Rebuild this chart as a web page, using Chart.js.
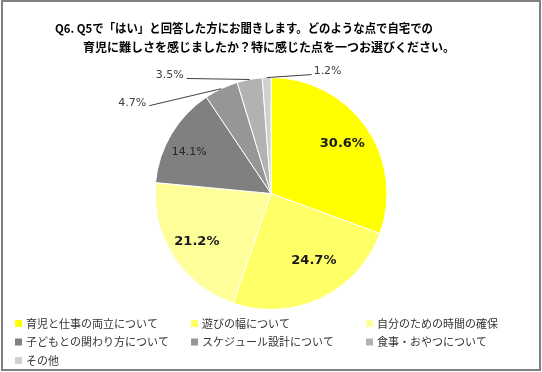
<!DOCTYPE html>
<html>
<head>
<meta charset="utf-8">
<script src="https://cdn.jsdelivr.net/npm/chart.js@4/dist/chart.umd.min.js"></script>
<style>
  html, body { margin: 0; padding: 0; background: #fff; }
  #wrap { width: 542px; height: 372px; }
</style>
</head>
<body>
<div id="wrap"><canvas id="myChart" width="542" height="372"></canvas></div>
<script>
// data
const titleLines = [
  "Q6. Q5で「はい」と回答した方にお聞きします。どのような点で自宅での",
  "育児に難しさを感じましたか？特に感じた点を一つお選びください。"
];
const categories = [
  "育児と仕事の両立について",
  "遊びの幅について",
  "自分のための時間の確保",
  "子どもとの関わり方について",
  "スケジュール設計について",
  "食事・おやつについて",
  "その他"
];
const shares = [30.6, 24.7, 21.2, 14.1, 4.7, 3.5, 1.2];
const sliceColors = ["#FFFF00", "#FFFF66", "#FFFF99", "#808080", "#969696", "#B2B2B2", "#D0D0D0"];

// how each value label is drawn (inside the slice, or outside with a leader line)
const labelStyle = [
  { inside: true, bold: true, r: 0.75 },
  { inside: true, bold: true, r: 0.69, turn: -7 },
  { inside: true, bold: true, r: 0.76 },
  { inside: true, bold: false, r: 0.79, turn: -4 },
  { inside: false, dx: -72, dy: 17, side: "left" },
  { inside: false, dx: -63, dy: -1, side: "left" },
  { inside: false, dx: 45, dy: -3, side: "right" }
];

const jpFont = '"Noto Sans CJK JP", "Noto Sans", sans-serif';
const numFont = '"DejaVu Sans", Verdana, sans-serif';

// frame + title + legend drawn around the pie
const decorPlugin = {
  id: "decor",
  beforeDraw(chart) {
    const c = chart.ctx;
    c.save();
    c.fillStyle = "#fff";
    c.fillRect(0, 0, chart.width, chart.height);
    c.strokeStyle = "#808080";
    c.lineWidth = 2;
    c.strokeRect(2, 1, 538, 369);
    c.restore();
  },
  afterDraw(chart) {
    const c = chart.ctx;
    c.save();
    // title
    c.fillStyle = "#000";
    c.font = "bold 12px " + jpFont;
    c.textBaseline = "middle";
    c.textAlign = "left";
    c.fillText(titleLines[0], 55, 28, 378);
    c.fillText(titleLines[1], 83, 47, 377);

    // legend, three columns
    const colX = [15, 191, 366];
    const rowY = [323.5, 342, 360.5];
    c.font = "11px " + jpFont;
    categories.forEach((name, i) => {
      const x = colX[i % 3];
      const y = rowY[Math.floor(i / 3)];
      c.fillStyle = sliceColors[i];
      c.fillRect(x, y - 3.5, 7, 7);
      c.fillStyle = "#333";
      c.fillText(name, x + 11, y);
    });
    c.restore();
  }
};

// value labels
const valueLabels = {
  id: "valueLabels",
  afterDatasetsDraw(chart) {
    const c = chart.ctx;
    const arcs = chart.getDatasetMeta(0).data;
    c.save();
    c.textBaseline = "middle";
    arcs.forEach((arc, i) => {
      const st = labelStyle[i];
      const txt = shares[i].toFixed(1) + "%";
      const mid = (arc.startAngle + arc.endAngle) / 2;
      if (st.inside) {
        const a = mid + (st.turn || 0) * Math.PI / 180;
        const x = arc.x + Math.cos(a) * arc.outerRadius * st.r;
        const y = arc.y + Math.sin(a) * arc.outerRadius * st.r;
        c.font = (st.bold ? "bold 13px " : "11px ") + numFont;
        c.fillStyle = st.bold ? "#1a1a1a" : "#262626";
        c.textAlign = "center";
        c.fillText(txt, x, y);
      } else {
        const ex = arc.x + Math.cos(mid) * arc.outerRadius;
        const ey = arc.y + Math.sin(mid) * arc.outerRadius;
        const lx = ex + st.dx, ly = ey + st.dy;
        c.strokeStyle = "#404040";
        c.lineWidth = 1;
        c.beginPath();
        c.moveTo(ex, ey);
        c.lineTo(lx, ly);
        c.stroke();
        c.font = "11px " + numFont;
        c.fillStyle = "#404040";
        if (st.side === "left") {
          c.textAlign = "right";
          c.fillText(txt, lx - 3, ly - 3);
        } else {
          c.textAlign = "left";
          c.fillText(txt, lx + 2, ly - 3);
        }
      }
    });
    c.restore();
  }
};

new Chart(document.getElementById("myChart"), {
  type: "pie",
  data: {
    labels: categories,
    datasets: [{
      data: shares,
      backgroundColor: sliceColors,
      borderColor: "#ffffff",
      borderWidth: 1
    }]
  },
  options: {
    responsive: false,
    animation: false,
    layout: { padding: { left: 154, right: 154, top: 77, bottom: 62 } },
    plugins: {
      legend: { display: false },
      title: { display: false },
      tooltip: { enabled: false }
    }
  },
  plugins: [decorPlugin, valueLabels]
});
</script>
</body>
</html>
